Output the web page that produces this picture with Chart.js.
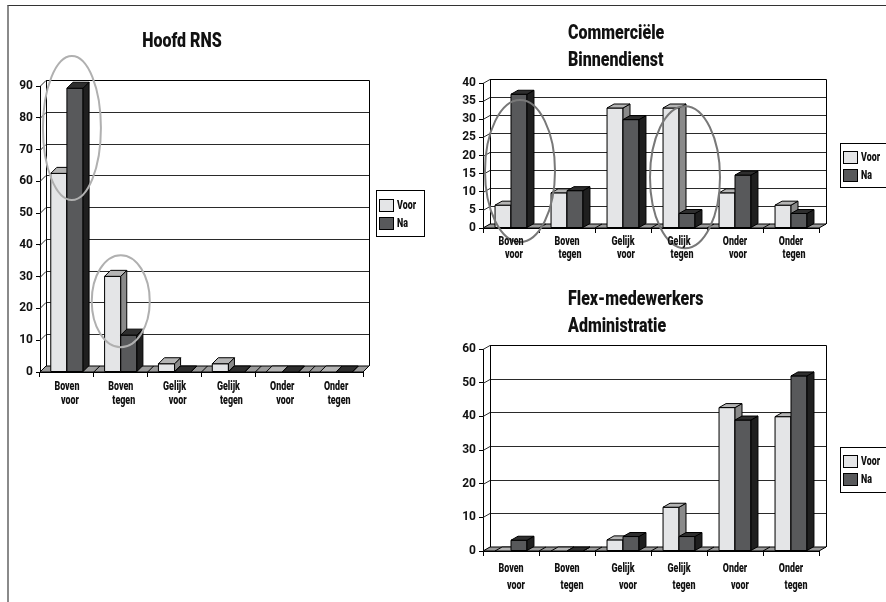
<!DOCTYPE html>
<html>
<head>
<meta charset="utf-8">
<script src="https://cdn.jsdelivr.net/npm/chart.js@4.4.1/dist/chart.umd.min.js"></script>
<style>
  body { margin: 0; background: #fff; }
  #blad { position: relative; width: 886px; height: 602px; overflow: hidden; }
  #kader { position: absolute; left: 7px; top: 5px; width: 900px; height: 620px;
           border-top: 1px solid #333; border-left: 2px solid #8a8a8a; }
  .vak { position: absolute; }
</style>
</head>
<body>
<div id="blad">
  <div id="kader"></div>
  <div class="vak" style="left:0;top:0;width:440px;height:420px"><canvas id="hoofd"></canvas></div>
  <div class="vak" style="left:440px;top:0;width:446px;height:270px"><canvas id="comm"></canvas></div>
  <div class="vak" style="left:440px;top:270px;width:446px;height:332px"><canvas id="flex"></canvas></div>
</div>
<script>
// gegevens
const categorieen = [['Boven', 'voor'], ['Boven', 'tegen'], ['Gelijk', 'voor'], ['Gelijk', 'tegen'], ['Onder', 'voor'], ['Onder', 'tegen']];
const reeksen = ['Voor', 'Na'];

const hoofdVoor = [62.5, 30.1, 2.6, 2.6, 0, 0];
const hoofdNa = [89.3, 11.6, 0, 0, 0, 0];

const commVoor = [6.3, 9.7, 33.1, 33.1, 9.7, 6.3];
const commNa = [36.9, 10.3, 29.9, 4, 14.6, 4];

const flexVoor = [0, 0, 3.3, 13, 42.6, 39.9];
const flexNa = [3.2, 0, 4.3, 4.3, 38.9, 52];

const hoofdAs = { max: 90, stap: 10 };
const commAs = { max: 40, stap: 5 };
const flexAs = { max: 60, stap: 10 };

const letter = "Roboto, 'Liberation Sans', sans-serif";
const kleuren = [
    { voor: '#e4e5e7', zij: '#8a8a8a', top: '#b4b4b4' },
    { voor: '#58595b', zij: '#1f1f1f', top: '#2e2e2e' }
];

function vlak(ctx, punten, vul){
    ctx.beginPath();
    ctx.moveTo(punten[0][0], punten[0][1]);
    for (let i = 1; i < punten.length; i++) ctx.lineTo(punten[i][0], punten[i][1]);
    ctx.closePath();
    ctx.fillStyle = vul;
    ctx.fill();
    ctx.stroke();
}

// smalle (condensed) tekst
function smal(ctx, s, x, y, schaal){
    ctx.save();
    ctx.translate(x, y);
    ctx.scale(schaal, 1);
    ctx.fillText(s, 0, 0);
    ctx.restore();
}

// 3D-achtige opmaak, legenda, titel, labels en ovalen
const drieD = {
    id: 'drieD',
    beforeDatasetsDraw(chart, args, opt){
        const ctx = chart.ctx, a = chart.chartArea, x = chart.scales.x, y = chart.scales.y;
        const dx = opt.dx, dy = opt.dy;
        ctx.save();
        ctx.lineWidth = 1;
        ctx.strokeStyle = '#2a2a2a';
        y.ticks.forEach(t => {
            const py = Math.round(y.getPixelForValue(t.value)) + 0.5;
            ctx.beginPath();
            ctx.moveTo(a.left, py);
            ctx.lineTo(a.left + dx, py - dy);
            ctx.lineTo(a.right + dx, py - dy);
            ctx.stroke();
        });
        ctx.strokeStyle = '#000';
        ctx.beginPath();
        ctx.moveTo(a.left + dx + 0.5, a.bottom - dy);
        ctx.lineTo(a.left + dx + 0.5, a.top - dy + 0.5);
        ctx.lineTo(a.right + dx + 0.5, a.top - dy + 0.5);
        ctx.lineTo(a.right + dx + 0.5, a.bottom - dy);
        ctx.stroke();
        // vloer
        vlak(ctx, [[a.left, a.bottom], [a.right, a.bottom], [a.right + dx, a.bottom - dy], [a.left + dx, a.bottom - dy]], '#9a9a9a');
        for (let i = 1; i < chart.data.labels.length; i++) {
            const px = (x.getPixelForValue(i - 1) + x.getPixelForValue(i)) / 2;
            ctx.beginPath();
            ctx.moveTo(px, a.bottom);
            ctx.lineTo(px + dx, a.bottom - dy);
            ctx.stroke();
        }
        ctx.restore();
    },
    afterDatasetsDraw(chart, args, opt){
        const ctx = chart.ctx, x = chart.scales.x, y = chart.scales.y;
        const dx = opt.dx, dy = opt.dy;
        const metas = chart.data.datasets.map((d, i) => chart.getDatasetMeta(i));
        ctx.save();
        ctx.lineWidth = 1;
        ctx.strokeStyle = '#000';
        for (let i = 0; i < chart.data.labels.length; i++) {
            metas.forEach((meta, k) => {
                const p = meta.data[i].getProps(['x', 'y', 'base', 'width'], true);
                const l = p.x - p.width / 2, r = p.x + p.width / 2;
                if (p.base - p.y > 0.5) {
                    vlak(ctx, [[l, p.y], [r, p.y], [r, p.base], [l, p.base]], kleuren[k].voor);
                }
                vlak(ctx, [[r, p.y], [r + dx, p.y - dy], [r + dx, p.base - dy], [r, p.base]], kleuren[k].zij);
                vlak(ctx, [[l, p.y], [l + dx, p.y - dy], [r + dx, p.y - dy], [r, p.y]], kleuren[k].top);
            });
        }
        // ovalen
        (opt.ovalen || []).forEach(o => {
            ctx.beginPath();
            ctx.ellipse(x.getPixelForValue(o.cat) + o.ox, y.getPixelForValue(o.val), o.rx, o.ry, 0, 0, Math.PI * 2);
            ctx.strokeStyle = opt.ovaalKleur;
            ctx.lineWidth = 2;
            ctx.stroke();
        });
        ctx.restore();
    },
    afterDraw(chart, args, opt){
        const ctx = chart.ctx, a = chart.chartArea, x = chart.scales.x;
        ctx.save();
        ctx.fillStyle = '#111';
        // titel
        const t = opt.titel;
        ctx.font = '900 ' + t.grootte + 'px ' + letter;
        ctx.textAlign = t.uitlijning;
        ctx.textBaseline = 'alphabetic';
        t.regels.forEach((r, i) => smal(ctx, r, t.x, t.y + i * t.afstand, 0.8));
        // categorielabels
        const c = opt.labels;
        ctx.font = '900 12px ' + letter;
        ctx.textAlign = 'center';
        chart.data.labels.forEach((lab, i) => {
            const px = x.getPixelForTick(i);
            lab.forEach((regel, j) => smal(ctx, regel, px + j * c.inspring, a.bottom + c.eerste + j * c.afstand, 0.74));
        });
        // legenda
        const g = opt.legenda;
        ctx.lineWidth = 1;
        ctx.strokeStyle = '#000';
        ctx.strokeRect(g.x + 0.5, g.y + 0.5, g.w, g.h);
        ctx.textAlign = 'left';
        ctx.textBaseline = 'middle';
        chart.data.datasets.forEach((d, k) => {
            const vy = g.y + g.binnen + k * g.stap;
            ctx.fillStyle = kleuren[k].voor;
            ctx.fillRect(g.x + 3.5, vy + 0.5, 14, 12);
            ctx.strokeRect(g.x + 3.5, vy + 0.5, 14, 12);
            ctx.fillStyle = '#111';
            smal(ctx, d.label, g.x + 21, vy + 7, 0.74);
        });
        ctx.restore();
    }
};

function maakGrafiek(id, voor, na, as, opmaak){
    new Chart(document.getElementById(id), {
        type: 'bar',
        data: {
            labels: categorieen,
            datasets: [
                { label: reeksen[0], data: voor, backgroundColor: kleuren[0].voor, borderColor: '#000', borderWidth: 1 },
                { label: reeksen[1], data: na, backgroundColor: kleuren[1].voor, borderColor: '#000', borderWidth: 1 }
            ]
        },
        options: {
            responsive: true,
            maintainAspectRatio: false,
            animation: false,
            categoryPercentage: opmaak.groep,
            barPercentage: 1,
            layout: { padding: opmaak.padding },
            plugins: {
                legend: { display: false },
                title: { display: false },
                tooltip: { enabled: false },
                drieD: opmaak.drieD
            },
            scales: {
                x: {
                    grid: { drawOnChartArea: false, tickLength: 5, color: '#000', offset: true },
                    border: { color: '#000' },
                    ticks: { display: false },
                    afterFit(s){ s.height = opmaak.xHoogte; }
                },
                y: {
                    min: 0,
                    max: as.max,
                    ticks: { stepSize: as.stap, color: '#111', font: { family: letter, size: 12, weight: 'bold' }, padding: 3 },
                    grid: { drawOnChartArea: false, tickLength: 4, color: '#000' },
                    border: { color: '#000' },
                    afterFit(s){ s.width = 30; }
                }
            }
        },
        plugins: [drieD]
    });
}

maakGrafiek('hoofd', hoofdVoor, hoofdNa, hoofdAs, {
    groep: 0.6, xHoogte: 40,
    padding: { left: 10, right: 77, top: 86, bottom: 8 },
    drieD: {
        dx: 6, dy: 6,
        ovaalKleur: '#b0b0b0',
        ovalen: [ { cat: 0, val: 76.8, ox: 5, rx: 29, ry: 72 }, { cat: 1, val: 22.3, ox: 0, rx: 29, ry: 46 } ],
        titel: { regels: ['Hoofd RNS'], x: 182, y: 47, afstand: 0, grootte: 20, uitlijning: 'center' },
        labels: { eerste: 18, afstand: 14, inspring: 3 },
        legenda: { x: 376, y: 190, w: 48, h: 46, binnen: 9, stap: 18 }
    }
});

maakGrafiek('comm', commVoor, commNa, commAs, {
    groep: 0.57, xHoogte: 35,
    padding: { left: 13, right: 67, top: 83, bottom: 7 },
    drieD: {
        dx: 7, dy: 4,
        ovaalKleur: '#787878',
        ovalen: [ { cat: 0, val: 15.7, ox: 9, rx: 35, ry: 71 }, { cat: 3, val: 14, ox: 6, rx: 35, ry: 71 } ],
        titel: { regels: ['Commerciële', 'Binnendienst'], x: 128, y: 39, afstand: 27, grootte: 20, uitlijning: 'left' },
        labels: { eerste: 17, afstand: 13, inspring: 3 },
        legenda: { x: 400, y: 143, w: 50, h: 44, binnen: 8, stap: 18 }
    }
});

maakGrafiek('flex', flexVoor, flexNa, flexAs, {
    groep: 0.57, xHoogte: 45,
    padding: { left: 13, right: 67, top: 79, bottom: 6 },
    drieD: {
        dx: 7, dy: 4,
        ovaalKleur: '#787878',
        ovalen: [],
        titel: { regels: ['Flex-medewerkers', 'Administratie'], x: 128, y: 35, afstand: 27, grootte: 20, uitlijning: 'left' },
        labels: { eerste: 21, afstand: 17, inspring: 5 },
        legenda: { x: 400, y: 177, w: 50, h: 45, binnen: 8, stap: 18 }
    }
});
</script>
</body>
</html>
